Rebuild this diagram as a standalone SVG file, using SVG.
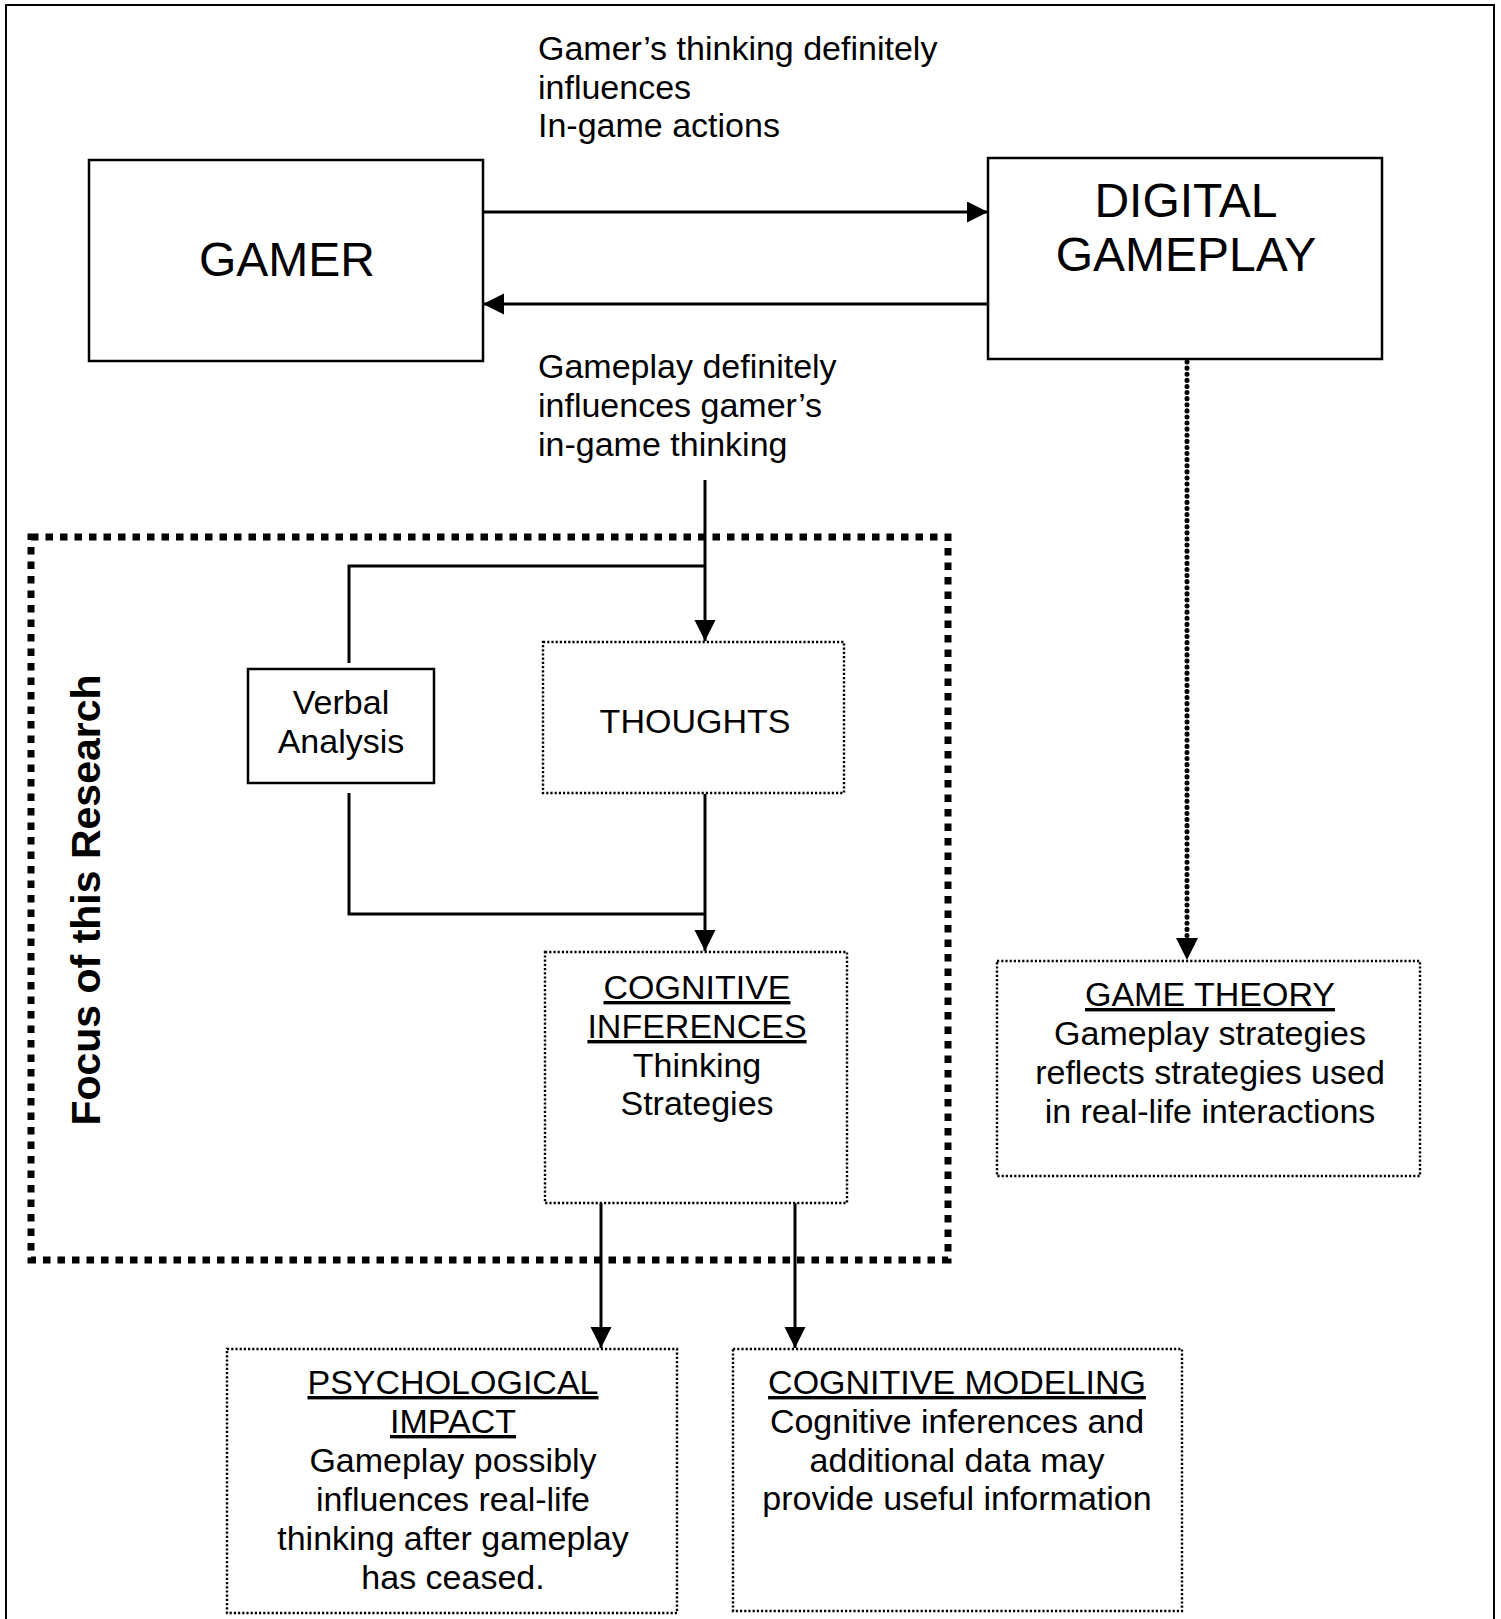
<svg xmlns="http://www.w3.org/2000/svg" width="1501" height="1619" viewBox="0 0 1501 1619">
  <style>
    text { font-family: "Liberation Sans", Arial, sans-serif; fill: #000; }
    .big { font-size: 48px; text-anchor: middle; }
    .mid { font-size: 34px; }
    .c { text-anchor: middle; }
    .u { text-decoration: underline; }
    .solid { fill: #fff; stroke: #000; stroke-width: 2.5; }
    .dotbox { fill: #fff; stroke: #000; stroke-width: 2.4; stroke-dasharray: 2.2 2; }
    .wire { fill: none; stroke: #000; stroke-width: 3; }
    .focus { fill: none; stroke: #000; stroke-width: 7; stroke-dasharray: 7.5 7; }
    .dots { fill: none; stroke: #000; stroke-width: 5; stroke-linecap: round; stroke-dasharray: 0.1 6; }
  </style>
  <defs>
    <marker id="arrow" markerUnits="userSpaceOnUse" markerWidth="24" markerHeight="24" refX="21" refY="10.5" orient="auto">
      <path d="M0,0 L21,10.5 L0,21 z" fill="#000"/>
    </marker>
  </defs>

  <!-- page frame -->
  <rect x="6" y="5" width="1488" height="1630" fill="#fff" stroke="#000" stroke-width="2"/>

  <!-- research focus region -->
  <g id="focus-region">
    <rect class="focus" x="31" y="537" width="917" height="723"/>
    <text x="100" y="900" font-size="41" font-weight="bold" text-anchor="middle" transform="rotate(-90 100 900)">Focus of this Research</text>
  </g>

  <!-- connectors -->
  <g id="connectors">
    <line class="wire" x1="483" y1="212" x2="988" y2="212" marker-end="url(#arrow)"/>
    <line class="wire" x1="988" y1="304" x2="483" y2="304" marker-end="url(#arrow)"/>
    <line class="wire" x1="705" y1="480" x2="705" y2="641" marker-end="url(#arrow)"/>
    <polyline class="wire" points="705,566 349,566 349,663"/>
    <line class="wire" x1="705" y1="794" x2="705" y2="951" marker-end="url(#arrow)"/>
    <polyline class="wire" points="349,793 349,914 705,914"/>
    <line class="wire" x1="601" y1="1203" x2="601" y2="1348" marker-end="url(#arrow)"/>
    <line class="wire" x1="795" y1="1203" x2="795" y2="1348" marker-end="url(#arrow)"/>
    <line class="dots" x1="1187" y1="362" x2="1187" y2="940"/>
    <path d="M1176,938 L1198,938 L1187,960 z" fill="#000"/>
  </g>

  <!-- edge labels -->
  <g id="label-top">
    <text class="mid" x="538" y="60">Gamer’s thinking definitely</text>
    <text class="mid" x="538" y="99">influences</text>
    <text class="mid" x="538" y="137">In-game actions</text>
  </g>
  <g id="label-bottom">
    <text class="mid" x="538" y="378">Gameplay definitely</text>
    <text class="mid" x="538" y="417">influences gamer’s</text>
    <text class="mid" x="538" y="456">in-game thinking</text>
  </g>

  <!-- nodes -->
  <g id="gamer">
    <rect class="solid" x="89" y="160" width="394" height="201"/>
    <text class="big" x="287" y="276">GAMER</text>
  </g>

  <g id="digital-gameplay">
    <rect class="solid" x="988" y="158" width="394" height="201"/>
    <text class="big" x="1186" y="217">DIGITAL</text>
    <text class="big" x="1186" y="271">GAMEPLAY</text>
  </g>

  <g id="verbal-analysis">
    <rect class="solid" x="248" y="669" width="186" height="114" stroke-width="2"/>
    <text class="mid c" x="341" y="714">Verbal</text>
    <text class="mid c" x="341" y="753">Analysis</text>
  </g>

  <g id="thoughts">
    <rect class="dotbox" x="543" y="642" width="301" height="151"/>
    <text class="mid c" x="695" y="733">THOUGHTS</text>
  </g>

  <g id="cognitive-inferences">
    <rect class="dotbox" x="545" y="952" width="302" height="251"/>
    <text class="mid c u" x="697" y="999">COGNITIVE</text>
    <text class="mid c u" x="697" y="1038">INFERENCES</text>
    <text class="mid c" x="697" y="1077">Thinking</text>
    <text class="mid c" x="697" y="1115">Strategies</text>
  </g>

  <g id="game-theory">
    <rect class="dotbox" x="997" y="961" width="423" height="215"/>
    <text class="mid c u" x="1210" y="1006">GAME THEORY</text>
    <text class="mid c" x="1210" y="1045">Gameplay strategies</text>
    <text class="mid c" x="1210" y="1084">reflects strategies used</text>
    <text class="mid c" x="1210" y="1123">in real-life interactions</text>
  </g>

  <g id="psychological-impact">
    <rect class="dotbox" x="227" y="1349" width="450" height="264"/>
    <text class="mid c u" x="453" y="1394">PSYCHOLOGICAL</text>
    <text class="mid c u" x="453" y="1433">IMPACT</text>
    <text class="mid c" x="453" y="1472">Gameplay possibly</text>
    <text class="mid c" x="453" y="1511">influences real-life</text>
    <text class="mid c" x="453" y="1550">thinking after gameplay</text>
    <text class="mid c" x="453" y="1589">has ceased.</text>
  </g>

  <g id="cognitive-modeling">
    <rect class="dotbox" x="733" y="1349" width="449" height="262"/>
    <text class="mid c u" x="957" y="1394">COGNITIVE MODELING</text>
    <text class="mid c" x="957" y="1433">Cognitive inferences and</text>
    <text class="mid c" x="957" y="1472">additional data may</text>
    <text class="mid c" x="957" y="1510">provide useful information</text>
  </g>
</svg>
